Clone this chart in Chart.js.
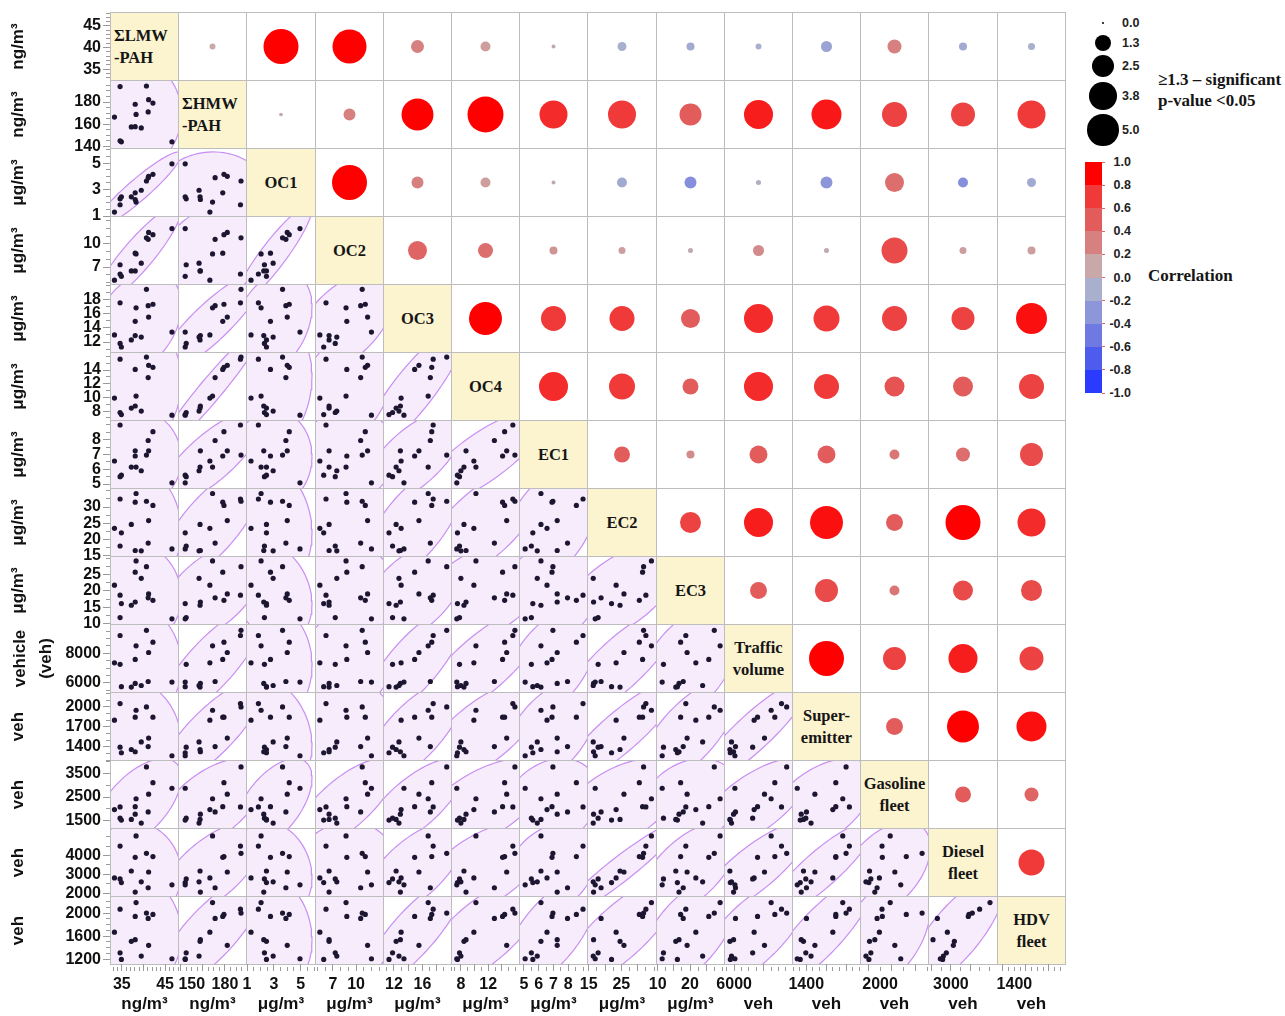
<!DOCTYPE html>
<html>
<head>
<meta charset="utf-8">
<script src="https://cdn.jsdelivr.net/npm/chart.js@4.4.1/dist/chart.umd.min.js"></script>
<style>
  body { margin: 0; width: 1285px; height: 1016px; overflow: hidden; position: relative; background: #fff;
         font-family: 'Liberation Sans', Arial, sans-serif; }
  canvas { position: absolute; }
  .cell { position: absolute; background: #fff; }
  .diag { background: #fcf3cf; display: flex; flex-direction: column; justify-content: center; align-items: center;
          font: bold 16.5px 'Liberation Serif', 'Times New Roman', serif; line-height: 22px; color: #151515; }
  .diag.left { align-items: flex-start; padding-left: 3px; box-sizing: border-box; }
  .lbl { position: absolute; white-space: nowrap; color: #222; }
  .key { font: bold 12.5px 'Liberation Sans', Arial, sans-serif; transform: translateY(-50%); }
  .serif { font: bold 17px 'Liberation Serif', 'Times New Roman', serif; color: #151515; transform: translateY(-50%); }
</style>
</head>
<body>
<div id="gridBg" style="position:absolute;background:#bdbdbd"></div>
<script>
// ---- data: 14 sampling days, one value per variable ----
const lmw      = [34.6, 40.7, 41.2, 42.2, 38.1, 41.1, 38.3, 33.3, 37.2, 38.1, 39.5, 34.6, 34.9, 46.6];
const hmw      = [194.0, 194.5, 182.1, 179.1, 178.0, 171.1, 168.8, 166.4, 157.5, 157.8, 156.6, 145.0, 144.1, 144.1];
const oc1      = [1.85, 3.65, 4.0, 4.15, 2.75, 3.9, 2.05, 1.3, 2.45, 2.25, 2.95, 2.3, 2.45, 4.95];
const oc2      = [6.1, 10.8, 11.5, 11.2, 8.8, 10.6, 8.7, 5.3, 6.5, 6.5, 7.5, 7.3, 5.8, 12.0];
const oc3      = [17.5, 19.4, 15.5, 17.3, 14.9, 17.1, 16.8, 13.0, 12.3, 12.9, 12.7, 11.8, 11.3, 13.4];
const oc4      = [15.6, 15.9, 14.7, 14.4, 14.1, 12.9, 10.2, 9.9, 8.45, 8.75, 8.0, 7.8, 7.5, 7.4];
const ec1      = [9.0, 6.96, 7.25, 8.55, 6.9, 7.95, 6.15, 6.56, 6.15, 7.25, 5.9, 5.5, 5.6, 5.08];
const ec2      = [32.5, 31.8, 25.8, 30.5, 31.5, 18.8, 34.2, 23.4, 24.6, 16.5, 16.4, 17.9, 22.0, 17.0];
const ec3      = [18.7, 27.5, 19.1, 17.1, 25.8, 17.9, 29.3, 21.8, 15.6, 16.6, 23.9, 11.8, 16.1, 11.4];
const traffic  = [9200, 9550, 8050, 8750, 7580, 6090, 8500, 7350, 5710, 5960, 5820, 7250, 5740, 6050];
const superEm  = [2050, 2000, 1530, 1845, 1845, 1403, 1950, 1800, 1358, 1324, 1472, 1393, 1309, 1264];
const gasoline = [2082, 3762, 2619, 3100, 2095, 1875, 2426, 1972, 1558, 1779, 1407, 1613, 1531, 2867];
const diesel   = [4497, 4115, 3127, 3942, 3906, 2295, 5036, 2816, 3180, 2069, 2607, 2763, 2571, 2451];
const hdv      = [2069, 2000, 1440, 1977, 1943, 1908, 2183, 1669, 1509, 1538, 1252, 1310, 1195, 1206];

const series = [lmw, hmw, oc1, oc2, oc3, oc4, ec1, ec2, ec3, traffic, superEm, gasoline, diesel, hdv];

const diagLabels = [['ΣLMW', '-PAH'], ['ΣHMW', '-PAH'], ['OC1'], ['OC2'], ['OC3'], ['OC4'], ['EC1'], ['EC2'], ['EC3'],
                    ['Traffic', 'volume'], ['Super-', 'emitter'], ['Gasoline', 'fleet'], ['Diesel', 'fleet'], ['HDV', 'fleet']];
const yUnits = ['ng/m³', 'ng/m³', 'μg/m³', 'μg/m³', 'μg/m³', 'μg/m³', 'μg/m³', 'μg/m³', 'μg/m³',
                ['vehicle', '(veh)'], 'veh', 'veh', 'veh', 'veh'];
const xUnits = ['ng/m³', 'ng/m³', 'μg/m³', 'μg/m³', 'μg/m³', 'μg/m³', 'μg/m³', 'μg/m³', 'μg/m³',
                'veh', 'veh', 'veh', 'veh', 'veh'];

const axisMin = [32.5, 138.5, 1.0, 4.8, 10.6, 6.7, 4.73, 14.8, 9.8, 5380, 1200, 1200, 1860, 1115];
const axisMax = [48.0, 199.0, 6.07, 13.5, 20.0, 16.5, 9.27, 35.6, 30.5, 9910, 2210, 4010, 5400, 2280];

const yTickLabels = [[35, 40, 45], [140, 160, 180], [1, 3, 5], [7, 10], [12, 14, 16, 18], [8, 10, 12, 14], [5, 6, 7, 8],
                     [15, 20, 25, 30], [10, 15, 20, 25], [6000, 8000], [1400, 1700, 2000], [1500, 2500, 3500],
                     [2000, 3000, 4000], [1200, 1600, 2000]];
const xTickLabels = [[35, 45], [150, 180], [1, 3, 5], [7, 10], [12, 16], [8, 12], [5, 6, 7, 8], [15, 25], [10, 20],
                     [6000], [1400], [2000], [3000], [1400]];
const minorStep = [1, 5, 0.5, 1, 1, 1, 0.5, 2.5, 2.5, 500, 100, 500, 500, 100];

// upper triangle: row i, columns i+1 .. 13
const corrRows = [
  [0.1, 0.95, 0.95, 0.3, 0.15, 0.05, -0.1, -0.15, -0.1, -0.2, 0.3, -0.15, -0.1],
  [0.05, 0.3, 0.9, 0.95, 0.75, 0.7, 0.5, 0.8, 0.82, 0.65, 0.65, 0.7],
  [0.95, 0.3, 0.15, 0.05, -0.15, -0.35, -0.05, -0.3, 0.4, -0.35, -0.15],
  [0.45, 0.4, 0.2, 0.15, 0.05, 0.25, 0.05, 0.6, 0.15, 0.15],
  [0.9, 0.7, 0.7, 0.5, 0.75, 0.7, 0.65, 0.65, 0.85],
  [0.75, 0.7, 0.5, 0.75, 0.7, 0.55, 0.5, 0.65],
  [0.5, 0.25, 0.5, 0.5, 0.35, 0.4, 0.6],
  [0.65, 0.8, 0.85, 0.5, 0.9, 0.75],
  [0.5, 0.6, 0.35, 0.6, 0.6],
  [0.95, 0.65, 0.8, 0.65],
  [0.5, 0.9, 0.85],
  [0.5, 0.45],
  [0.7]
];
const logPRows = [
  [0.18, 6.25, 5.9, 0.86, 0.51, 0.08, 0.41, 0.33, 0.18, 0.62, 1.0, 0.33, 0.25],
  [0.07, 0.73, 5.2, 6.6, 4.0, 4.0, 2.47, 4.3, 4.6, 3.2, 2.94, 4.0],
  [6.25, 0.73, 0.51, 0.08, 0.51, 0.73, 0.13, 0.73, 1.84, 0.51, 0.41],
  [1.84, 1.15, 0.33, 0.25, 0.13, 0.62, 0.13, 3.45, 0.25, 0.33],
  [5.55, 3.2, 3.2, 1.84, 4.3, 3.45, 3.2, 2.7, 4.9],
  [4.3, 3.45, 1.3, 4.3, 3.2, 2.04, 2.04, 3.2],
  [1.3, 0.33, 1.65, 1.65, 0.51, 1.0, 2.7],
  [2.25, 4.3, 5.55, 1.47, 6.25, 4.0],
  [1.47, 2.7, 0.51, 2.04, 2.25],
  [6.25, 2.7, 4.3, 2.94],
  [1.47, 5.2, 4.6],
  [1.3, 1.0],
  [3.45]
];

const sizeKeyValues = [0.0, 1.3, 2.5, 3.8, 5.0];
const corrKeyValues = [1.0, 0.8, 0.6, 0.4, 0.2, 0.0, -0.2, -0.4, -0.6, -0.8, -1.0];

// ---- layout ----
const X0 = 110, Y0 = 12, CW = 68.2, CH = 68;
const N = series.length;
const colL = j => Math.round(X0 + j * CW);
const rowT = i => Math.round(Y0 + i * CH);
const bubbleR = v => 7 * Math.sqrt(v);

const colorStops = [
  [0.9, [255, 0, 0]], [0.7, [240, 58, 58]], [0.5, [226, 92, 92]], [0.3, [214, 128, 128]], [0.1, [200, 168, 168]],
  [-0.1, [168, 176, 206]], [-0.3, [140, 150, 216]], [-0.5, [110, 122, 226]], [-0.7, [78, 92, 238]], [-0.9, [42, 58, 255]]
];
function corrColor(r) {
  if (r >= colorStops[0][0]) return 'rgb(' + colorStops[0][1] + ')';
  for (let k = 0; k < colorStops.length - 1; k++) {
    const [v1, c1] = colorStops[k], [v2, c2] = colorStops[k + 1];
    if (r <= v1 && r >= v2) {
      const t = (v1 - r) / (v1 - v2);
      return 'rgb(' + c1.map((c, n) => Math.round(c + (c2[n] - c) * t)).join(',') + ')';
    }
  }
  return 'rgb(' + colorStops[colorStops.length - 1][1] + ')';
}

const common = {
  responsive: false, devicePixelRatio: 1, animation: false, events: [],
  plugins: { legend: { display: false }, tooltip: { enabled: false } }
};
const hidden = k => ({ type: 'linear', display: false, min: axisMin[k], max: axisMax[k] });
const tickFont = { family: "'Liberation Sans', Arial, sans-serif", size: 16, weight: 'bold' };
const titleFont = { family: "'Liberation Sans', Arial, sans-serif", size: 17, weight: 'bold' };

function makeCanvas(left, top, w, h) {
  const c = document.createElement('canvas');
  c.width = w; c.height = h;
  c.style.left = left + 'px'; c.style.top = top + 'px';
  c.style.width = w + 'px'; c.style.height = h + 'px';
  document.body.appendChild(c);
  return c;
}

function tickValues(k) {
  const out = [];
  const s = minorStep[k];
  for (let v = Math.ceil(axisMin[k] / s) * s; v <= axisMax[k] + 1e-9; v += s) out.push(Math.round(v * 1000) / 1000);
  return out;
}
const has = (arr, v) => arr.some(a => Math.abs(a - v) < 1e-6);

// density ellipse from the two series
function ellipse(xs, ys) {
  const n = xs.length;
  const mx = xs.reduce((a, b) => a + b) / n, my = ys.reduce((a, b) => a + b) / n;
  let sxx = 0, syy = 0, sxy = 0;
  for (let k = 0; k < n; k++) {
    sxx += (xs[k] - mx) ** 2; syy += (ys[k] - my) ** 2; sxy += (xs[k] - mx) * (ys[k] - my);
  }
  sxx /= n - 1; syy /= n - 1; sxy /= n - 1;
  const c = 2.8;
  const a = Math.sqrt(sxx), b = sxy / a, d = Math.sqrt(Math.max(syy - b * b, 0));
  const pts = [];
  for (let t = 0; t <= 90; t++) {
    const th = t / 90 * 2 * Math.PI;
    pts.push({ x: mx + c * a * Math.cos(th), y: my + c * (b * Math.cos(th) + d * Math.sin(th)) });
  }
  return pts;
}

// grid background (cell borders)
const bg = document.getElementById('gridBg');
bg.style.left = colL(0) + 'px'; bg.style.top = rowT(0) + 'px';
bg.style.width = (colL(N) - colL(0) + 1) + 'px'; bg.style.height = (rowT(N) - rowT(0) + 1) + 'px';

for (let i = 0; i < N; i++) {
  for (let j = 0; j < N; j++) {
    const left = colL(j) + 1, top = rowT(i) + 1;
    const w = colL(j + 1) - colL(j) - 1, h = rowT(i + 1) - rowT(i) - 1;
    const cell = document.createElement('div');
    cell.className = 'cell';
    Object.assign(cell.style, { left: left + 'px', top: top + 'px', width: w + 'px', height: h + 'px' });
    document.body.appendChild(cell);

    if (i === j) {
      cell.className = 'cell diag' + (i < 2 ? ' left' : '');
      cell.innerHTML = diagLabels[i].map(s => '<div>' + s + '</div>').join('');
      continue;
    }
    const cv = makeCanvas(left, top, w, h);
    if (i > j) {
      const xs = series[j], ys = series[i];
      new Chart(cv, {
        type: 'scatter',
        data: { datasets: [
          { data: xs.map((x, k) => ({ x: x, y: ys[k] })), pointRadius: 2.6, backgroundColor: '#1d1630', borderWidth: 0 },
          { data: ellipse(xs, ys), showLine: true, pointRadius: 0, borderColor: '#c98ef2', borderWidth: 1.2,
            backgroundColor: '#f6ecfc', fill: 'shape', tension: 0 }
        ] },
        options: { ...common, layout: { padding: 0, autoPadding: false }, scales: { x: hidden(j), y: hidden(i) } }
      });
    } else {
      const r = corrRows[i][j - i - 1], lp = logPRows[i][j - i - 1];
      new Chart(cv, {
        type: 'bubble',
        data: { datasets: [{ data: [{ x: 0, y: 0, r: bubbleR(lp) }], backgroundColor: corrColor(r),
                             borderWidth: 0, clip: false }] },
        options: { ...common, layout: { padding: 0, autoPadding: false },
          scales: { x: { display: false, min: -1, max: 1 }, y: { display: false, min: -1, max: 1 } } }
      });
    }
  }
}

// left axes
for (let i = 0; i < N; i++) {
  const top = rowT(i) + 1, h = rowT(i + 1) - rowT(i) - 1, pad = 14;
  const cv = makeCanvas(0, top - pad, 130, h + 2 * pad);
  const multi = Array.isArray(yUnits[i]);
  new Chart(cv, {
    type: 'scatter', data: { datasets: [] },
    options: { ...common,
      layout: { padding: { top: pad, bottom: pad, left: 0, right: 0 }, autoPadding: false },
      scales: {
        x: { display: false, min: 0, max: 1 },
        y: { type: 'linear', min: axisMin[i], max: axisMax[i],
          afterBuildTicks: s => { s.ticks = tickValues(i).map(v => ({ value: v })); },
          afterFit: s => { s.width = 110; },
          ticks: { autoSkip: false, padding: 2, color: '#111', font: tickFont,
                   callback: v => has(yTickLabels[i], v) ? String(v) : '' },
          grid: { drawOnChartArea: false, tickLength: 7, tickColor: '#9a9a9a', tickWidth: 1,
                  tickBorderDash: ctx => has(yTickLabels[i], ctx.tick ? ctx.tick.value : NaN) ? [] : [0, 3, 4, 0] },
          border: { display: false },
          title: { display: true, text: yUnits[i], color: '#111', padding: { top: 8, bottom: 0 },
                   font: { ...titleFont, lineHeight: multi ? 1.5 : 1.2 } }
        }
      }
    }
  });
}

// bottom axes
const gridBottom = rowT(N);
for (let j = 0; j < N; j++) {
  const left = colL(j) + 1, w = colL(j + 1) - colL(j) - 1, padX = 25;
  const H = 1016 - (gridBottom - 10);
  const cv = makeCanvas(left - padX, gridBottom - 10, w + 2 * padX, H);
  new Chart(cv, {
    type: 'scatter', data: { datasets: [] },
    options: { ...common,
      layout: { padding: { top: 0, bottom: 0, left: padX, right: padX }, autoPadding: false },
      scales: {
        y: { display: false, min: 0, max: 1 },
        x: { type: 'linear', position: 'bottom', min: axisMin[j], max: axisMax[j],
          afterBuildTicks: s => { s.ticks = tickValues(j).map(v => ({ value: v })); },
          afterFit: s => { s.height = H - 10; },
          ticks: { autoSkip: false, maxRotation: 0, padding: 4, color: '#111', font: tickFont,
                   callback: v => has(xTickLabels[j], v) ? String(v) : '' },
          grid: { drawOnChartArea: false, tickLength: 7, tickColor: '#9a9a9a', tickWidth: 1,
                  tickBorderDash: ctx => has(yTickLabels[j], ctx.tick ? ctx.tick.value : NaN) ? [] : [0, 3, 4, 0] },
          border: { display: false },
          title: { display: true, text: xUnits[j], color: '#111', padding: { top: 0, bottom: 1 }, font: titleFont }
        }
      }
    }
  });
}

// ---- key: bubble size ----
const sizeKeyY = [23, 43, 66, 96, 130];
sizeKeyValues.forEach((v, k) => {
  const d = Math.max(2 * bubbleR(v), 2);
  const dot = document.createElement('div');
  Object.assign(dot.style, { position: 'absolute', left: (1103 - d / 2) + 'px', top: (sizeKeyY[k] - d / 2) + 'px',
    width: d + 'px', height: d + 'px', borderRadius: '50%', background: '#000' });
  document.body.appendChild(dot);
  const t = document.createElement('div');
  t.className = 'lbl key';
  t.style.left = '1122px'; t.style.top = sizeKeyY[k] + 'px';
  t.textContent = v.toFixed(1);
  document.body.appendChild(t);
});

// ---- key: correlation colour bar ----
const barTop = 162, barH = 231, barX = 1085, barW = 17;
for (let k = 0; k < 10; k++) {
  const seg = document.createElement('div');
  const mid = 0.9 - k * 0.2;
  Object.assign(seg.style, { position: 'absolute', left: barX + 'px', top: (barTop + k * barH / 10) + 'px',
    width: barW + 'px', height: (barH / 10 + 0.5) + 'px', background: corrColor(mid) });
  document.body.appendChild(seg);
}
corrKeyValues.forEach(v => {
  const y = barTop + (1 - v) / 2 * barH;
  const t = document.createElement('div');
  t.className = 'lbl key';
  t.style.right = (1285 - 1131) + 'px'; t.style.top = y + 'px';
  t.textContent = v.toFixed(1);
  document.body.appendChild(t);
  const tk = document.createElement('div');
  Object.assign(tk.style, { position: 'absolute', left: (barX + barW) + 'px', top: (y - 0.5) + 'px',
    width: '3px', height: '1px', background: '#d66' });
  document.body.appendChild(tk);
});

[['≥1.3 – significant', 1158, 80], ['p-value <0.05', 1158, 101], ['Correlation', 1148, 276]].forEach(([s, x, y]) => {
  const t = document.createElement('div');
  t.className = 'lbl serif';
  t.style.left = x + 'px'; t.style.top = y + 'px';
  t.textContent = s;
  document.body.appendChild(t);
});
</script>
</body>
</html>
